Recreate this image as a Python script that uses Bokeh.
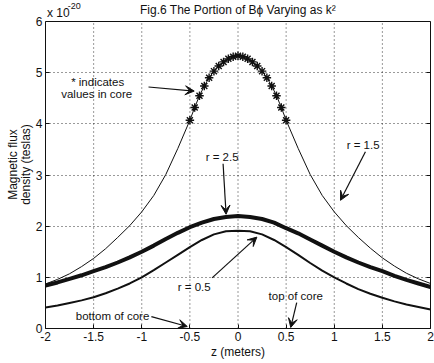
from bokeh.plotting import figure
from bokeh.models import Range1d, Label, Arrow, VeeHead, LinearAxis, FixedTicker, Span
from bokeh.embed import file_html
from bokeh.resources import INLINE

# ---- data (field values in units of 1e-20 T) ----
z_main = [-2.0, -1.875, -1.75, -1.625, -1.5, -1.375, -1.25, -1.125, -1.0, -0.875, -0.75, -0.625,
          -0.5, -0.375, -0.25, -0.125, 0.0, 0.125, 0.25, 0.375, 0.5, 0.625, 0.75, 0.875,
          1.0, 1.125, 1.25, 1.375, 1.5, 1.625, 1.75, 1.875, 2.0]
b_r25 = [0.84, 0.90, 0.97, 1.04, 1.12, 1.20, 1.29, 1.39, 1.50, 1.62, 1.75, 1.87,
         1.98, 2.07, 2.14, 2.18, 2.20, 2.18, 2.14, 2.07, 1.96, 1.86, 1.74, 1.62,
         1.50, 1.39, 1.29, 1.20, 1.12, 1.03, 0.95, 0.88, 0.81]
b_r05 = [0.41, 0.45, 0.50, 0.55, 0.61, 0.69, 0.78, 0.88, 1.00, 1.14, 1.29, 1.44,
         1.59, 1.73, 1.84, 1.90, 1.91, 1.90, 1.84, 1.73, 1.59, 1.44, 1.28, 1.13,
         1.00, 0.88, 0.77, 0.68, 0.60, 0.53, 0.47, 0.42, 0.37]
z_r15 = [-2.0, -1.875, -1.75, -1.625, -1.5, -1.375, -1.25, -1.125, -1.0, -0.875, -0.75, -0.625,
         -0.5, -0.45, -0.4, -0.35, -0.3, -0.25, -0.2, -0.15, -0.1, -0.05, 0.0,
         0.05, 0.1, 0.15, 0.2, 0.25, 0.3, 0.35, 0.4, 0.45, 0.5,
         0.625, 0.75, 0.875, 1.0, 1.125, 1.25, 1.375, 1.5, 1.625, 1.75, 1.875, 2.0]
b_r15 = [0.87, 0.96, 1.07, 1.21, 1.37, 1.56, 1.78, 2.01, 2.28, 2.60, 3.01, 3.52,
         4.07, 4.32, 4.55, 4.74, 4.90, 5.03, 5.13, 5.21, 5.27, 5.31, 5.33,
         5.31, 5.27, 5.21, 5.13, 5.03, 4.90, 4.74, 4.55, 4.32, 4.07,
         3.52, 3.01, 2.60, 2.28, 2.01, 1.78, 1.57, 1.38, 1.22, 1.08, 0.97, 0.88]
core_half = 0.5
x_ticks = [-2, -1.5, -1, -0.5, 0, 0.5, 1, 1.5, 2]
x_tick_labels = ["-2", "-1.5", "-1", "-0.5", "0", "0.5", "1", "1.5", "2"]
y_ticks = [0, 1, 2, 3, 4, 5, 6]
y_tick_labels = ["0", "1", "2", "3", "4", "5", "6"]

FONT = "Liberation Sans"
INK = "#111111"

# frame extends above y=6 so the title row can be drawn inside it
AXES_PX = 307
TOP_PX = 21
y_top = y_ticks[-1] * (AXES_PX + TOP_PX) / AXES_PX

p = figure(frame_width=385, frame_height=AXES_PX + TOP_PX,
           x_range=Range1d(x_ticks[0], x_ticks[-1]), y_range=Range1d(y_ticks[0], y_top),
           output_backend="svg", toolbar_location=None,
           min_border_left=45, min_border_right=4, min_border_top=0, min_border_bottom=35,
           background_fill_color="white", border_fill_color="white")
p.outline_line_color = None
p.xgrid.visible = False

for ax, ticks, labels in ((p.xaxis[0], x_ticks, x_tick_labels), (p.yaxis[0], y_ticks, y_tick_labels)):
    ax.ticker = FixedTicker(ticks=ticks)
    ax.major_label_overrides = {t: l for t, l in zip(ticks, labels)}
    ax.major_tick_in = 4
    ax.major_tick_out = 0
    ax.minor_tick_line_color = None
    ax.axis_line_color = INK
    ax.major_tick_line_color = INK
    ax.major_label_text_font = FONT
    ax.major_label_text_font_size = "12px"
    ax.major_label_text_color = INK
    ax.axis_label_text_font = FONT
    ax.axis_label_text_font_size = "12px"
    ax.axis_label_text_font_style = "normal"
    ax.axis_label_text_color = INK
p.yaxis.bounds = (y_ticks[0], y_ticks[-1])
p.xaxis.major_label_standoff = 3
p.yaxis.major_label_standoff = 3
p.xaxis.axis_label = "z (meters)"
p.xaxis.axis_label_standoff = 1
p.yaxis.axis_label = "Magnetic flux\ndensity (teslas)"
p.yaxis.axis_label_standoff = 0
p.yaxis.axis_label_text_line_height = 0.95

rax = LinearAxis(ticker=FixedTicker(ticks=y_ticks), major_tick_in=4, major_tick_out=0,
                 minor_tick_line_color=None, major_label_overrides={t: "" for t in y_ticks},
                 major_label_standoff=0, axis_line_color=INK, major_tick_line_color=INK,
                 bounds=(y_ticks[0], y_ticks[-1]))
p.add_layout(rax, "right")
p.add_layout(Span(location=y_ticks[-1], dimension="width", line_color=INK, line_width=1))

p.ygrid.ticker = FixedTicker(ticks=y_ticks[1:-1])
p.ygrid.grid_line_color = INK
p.ygrid.grid_line_dash = "1 3"
p.ygrid.grid_line_alpha = 0.85
n = len(x_ticks)
p.segment(x0=x_ticks[1:-1], y0=[y_ticks[0]] * (n - 2), x1=x_ticks[1:-1], y1=[y_ticks[-1]] * (n - 2),
          line_color=INK, line_dash="1 3", line_width=1, line_alpha=0.85)

# curves
p.line(z_r15, b_r15, line_color=INK, line_width=1)
p.line(z_main, b_r25, line_color=INK, line_width=4)
p.line(z_main, b_r05, line_color=INK, line_width=2)
zc = [z for z in z_r15 if abs(z) <= core_half]
bc = [b for z, b in zip(z_r15, b_r15) if abs(z) <= core_half]
p.scatter(zc, bc, marker="asterisk", size=8.5, line_color=INK, line_width=1.4)

def lab(x, y, t, size="11.5px", align="center"):
    p.add_layout(Label(x=x, y=y, text=t, text_font=FONT, text_font_size=size, text_color=INK,
                       text_align=align, text_baseline="middle"))

def arr(x0, y0, x1, y1):
    p.add_layout(Arrow(x_start=x0, y_start=y0, x_end=x1, y_end=y1, line_color=INK, line_width=1.2,
                       end=VeeHead(size=9, fill_color=INK, line_color=INK)))

# annotations
lab(-1.458, 4.82, "* indicates")
lab(-1.468, 4.58, "values in core")
arr(-0.93, 4.72, -0.455, 4.64)
lab(1.30, 3.59, "r = 1.5")
arr(1.324, 3.456, 1.065, 2.505)
lab(-0.165, 3.36, "r = 2.5")
arr(-0.155, 3.22, -0.124, 2.233)
lab(-0.455, 0.816, "r = 0.5")
arr(-0.269, 0.99, 0.196, 1.786)
lab(-1.303, 0.252, "bottom of core")
arr(-0.90, 0.233, -0.527, 0.039)
lab(0.60, 0.64, "top of core")
arr(0.61, 0.505, 0.548, 0.02)

# title and exponent in the row above y = 6
lab(0.0, 6.215, "Fig.6 The Portion of B\u03d5 Varying as k\u00b2", size="12px")
lab(-1.985, 6.17, "x 10", size="12px", align="left")
lab(-1.77, 6.30, "-20", size="9px", align="left")

open("out.html", "w").write(file_html(p, INLINE))
